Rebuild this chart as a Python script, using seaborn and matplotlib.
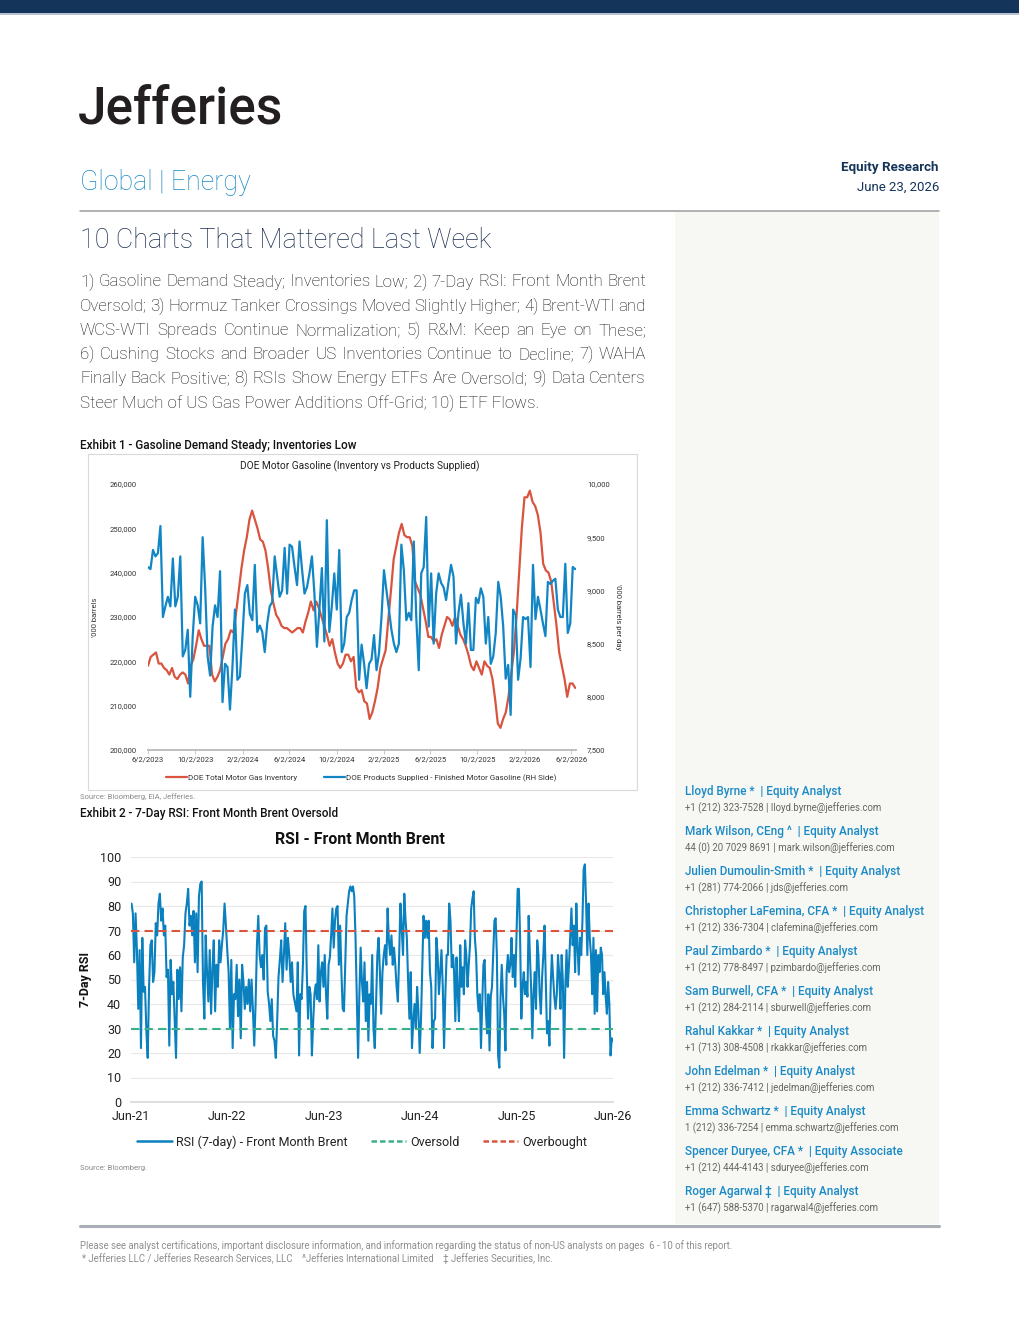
import pandas as pd
import matplotlib
matplotlib.use("Agg")
import matplotlib.pyplot as plt
import matplotlib.dates as mdates
import matplotlib.ticker as mticker
from matplotlib.patches import Rectangle
from matplotlib.lines import Line2D
import seaborn as sns

# === 1. Data ===
# Exhibit 1: weekly DOE series, 6/2/2023 -> mid June 2026
gas_start, gas_end = "2023-06-02", "2026-06-12"
inventory = [  # '000 barrels
    219000, 221000, 221500, 222000, 219500, 219500, 218500, 218000, 217000, 218500,
    216500, 216000, 217000, 217500, 217000, 215000, 219000, 220500, 223500, 227000,
    225000, 223500, 223500, 223500, 217000, 215500, 216500, 218000, 221000, 224000,
    225000, 227000, 226500, 231000, 236000, 241000, 245000, 248000, 252000, 254000,
    252000, 250000, 247500, 247000, 245000, 241000, 236000, 233000, 230500, 229500,
    228000, 227500, 227500, 227000, 226500, 227000, 227500, 227500, 226500, 229000,
    231000, 233500, 231500, 233500, 232000, 230000, 228000, 226000, 223500, 225000,
    222000, 219500, 218500, 219500, 221500, 221500, 220000, 221000, 214000, 213000,
    213500, 211000, 210500, 207000, 208500, 211000, 214000, 218500, 220500, 222500,
    229500, 236000, 243000, 246000, 249000, 251000, 248500, 248000, 248000, 246000,
    238000, 236500, 235000, 232000, 229000, 225500, 225500, 224500, 225000, 223000,
    226000, 228000, 230000, 229500, 228000, 230000, 228000, 226000, 225000, 223500,
    221500, 219000, 218000, 220000, 218500, 217000, 220000, 219000, 218500, 216000,
    211500, 206000, 205000, 207000, 208500, 212000, 217000, 222000, 230000, 240000,
    250000, 257000, 257000, 258500, 256000, 255000, 253000, 249000, 242000, 240500,
    240000, 238000, 233000, 228000, 222000, 219000, 216000, 212000, 215000, 215000,
    214000,
]
supplied = [  # '000 barrels per day
    9220, 9200, 9380, 9320, 9350, 9605, 8750, 8850, 8940, 8850, 9300, 8850, 8940, 9320,
    8380, 8440, 8630, 8000, 8570, 8940, 8860, 8690, 9500, 9030, 8380, 8200, 8660, 8860,
    8750, 9180, 7950, 8310, 8280, 7880, 8280, 8820, 8160, 8190, 8560, 8970, 9050, 8780,
    8720, 9240, 8610, 8670, 8610, 8420, 8690, 8850, 8890, 9320, 9130, 8940, 9000, 9400,
    8970, 9430, 9410, 9220, 9050, 9460, 9200, 8970, 9030, 9160, 9320, 8970, 8470, 8820,
    9210, 8520, 9660, 8610, 8850, 9160, 8820, 9380, 8420, 8500, 8750, 8790, 8910, 9000,
    9000, 8160, 8490, 8310, 8080, 8310, 8350, 8580, 8250, 8410, 8750, 9190, 9000, 8820,
    8630, 8500, 8420, 8500, 9430, 9190, 8720, 8790, 8720, 9460, 8750, 8250, 9160, 9220,
    9690, 8660, 9160, 8500, 8970, 9160, 9070, 9030, 8910, 9080, 9240, 9130, 8500, 8790,
    8960, 8690, 8500, 8880, 8440, 8440, 8930, 8880, 9020, 8940, 8500, 8750, 8310, 8380,
    8600, 9080, 8940, 8660, 8170, 8300, 7830, 8820, 8770, 8160, 8360, 8750, 8730, 8750,
    8280, 9240, 8730, 8940, 8820, 8690, 8570, 9080, 9060, 9090, 9110, 8820, 8750, 8750,
    9250, 8600, 8690, 9220, 9200,
]

# Exhibit 2: 7-day RSI, Front Month Brent, in three date spans
rsi_span_a = ("2021-06-24", "2023-02-27")
rsi_a = [
    81, 77, 57, 77, 62, 38, 62, 22, 67, 45, 47, 29, 18, 47, 64, 66, 49, 53, 73, 68,
    81, 85, 74, 79, 68, 72, 51, 54, 23, 58, 44, 49, 33, 18, 54, 42, 55, 37, 59, 64,
    77, 81, 87, 72, 76, 68, 78, 57, 77, 53, 84, 89, 90, 49, 34, 68, 53, 41, 62, 36,
    54, 66, 37, 56, 47, 66, 57, 64, 70, 81, 72, 62, 53, 30, 58, 22, 44, 42, 56, 35,
    50, 26, 56, 49, 38, 47, 40, 50, 37, 50, 38, 23, 40, 64, 76, 60, 55, 60, 50, 71,
    72, 45, 40, 33, 42, 27, 25, 18, 33, 51, 58, 66, 49, 60, 73, 54, 67, 60, 49, 57,
    44,
]
rsi_span_b = ("2023-03-11", "2024-10-24")
rsi_b = [
    37, 57, 19, 44, 42, 56, 78, 80, 53, 34, 47, 44, 19, 33, 44, 48, 42, 64, 41, 53,
    57, 47, 60, 44, 34, 56, 59, 68, 79, 63, 74, 79, 80, 56, 72, 53, 38, 37, 56, 76,
    81, 86, 88, 86, 88, 84, 67, 42, 18, 44, 63, 49, 41, 57, 33, 49, 25, 44, 40, 60,
    30, 22, 40, 60, 67, 53, 36, 53, 60, 64, 56, 79, 66, 60, 68, 56, 63, 56, 47, 41,
    60, 81, 71, 60, 85, 74, 67, 49, 34, 53, 22, 33, 40, 30, 47, 37, 20, 33, 55, 76,
    67, 74, 67, 74, 53, 47, 22, 33, 34, 67, 60, 44, 53, 62, 47, 22, 44, 60, 60, 81,
    74, 55, 60,
]
rsi_span_c = ("2024-10-28", "2026-06-22")
rsi_c = [
    53, 33, 59, 44, 33, 64, 47, 55, 44, 66, 60, 47, 56, 64, 79, 83, 86, 67, 60, 44,
    37, 44, 22, 40, 56, 58, 37, 28, 44, 21, 43, 47, 60, 74, 75, 60, 19, 14, 43, 56,
    43, 36, 21, 53, 60, 53, 56, 67, 51, 60, 47, 67, 87, 87, 67, 34, 47, 53, 44, 49,
    43, 76, 60, 47, 26, 44, 53, 38, 66, 60, 44, 36, 51, 60, 72, 49, 28, 33, 23, 47,
    60, 51, 43, 38, 44, 60, 52, 38, 60, 49, 18, 47, 62, 47, 56, 67, 79, 64, 72, 53,
    81, 63, 52, 67, 60, 74, 95, 97, 81, 60, 81, 67, 60, 44, 67, 36, 62, 37, 60, 53,
    63, 60, 44, 53, 43, 36, 49, 40, 19, 26, 25,
]

analysts = [
    "Lloyd Byrne *  | Equity Analyst",
    "Mark Wilson, CEng ^  | Equity Analyst",
    "Julien Dumoulin-Smith *  | Equity Analyst",
    "Christopher LaFemina, CFA *  | Equity Analyst",
    "Paul Zimbardo *  | Equity Analyst",
    "Sam Burwell, CFA *  | Equity Analyst",
    "Rahul Kakkar *  | Equity Analyst",
    "John Edelman *  | Equity Analyst",
    "Emma Schwartz *  | Equity Analyst",
    "Spencer Duryee, CFA *  | Equity Associate",
    "Roger Agarwal \u2021  | Equity Analyst",
]
contacts = [
    "+1 (212) 323-7528 | lloyd.byrne@jefferies.com",
    "44 (0) 20 7029 8691 | mark.wilson@jefferies.com",
    "+1 (281) 774-2066 | jds@jefferies.com",
    "+1 (212) 336-7304 | clafemina@jefferies.com",
    "+1 (212) 778-8497 | pzimbardo@jefferies.com",
    "+1 (212) 284-2114 | sburwell@jefferies.com",
    "+1 (713) 308-4508 | rkakkar@jefferies.com",
    "+1 (212) 336-7412 | jedelman@jefferies.com",
    "1 (212) 336-7254 | emma.schwartz@jefferies.com",
    "+1 (212) 444-4143 | sduryee@jefferies.com",
    "+1 (647) 588-5370 | ragarwal4@jefferies.com",
]

summary_lines = [
    "1) Gasoline Demand Steady; Inventories Low; 2) 7-Day RSI: Front Month Brent",
    "Oversold; 3) Hormuz Tanker Crossings Moved Slightly Higher; 4) Brent-WTI and",
    "WCS-WTI Spreads Continue Normalization; 5) R&M: Keep an Eye on These;",
    "6) Cushing Stocks and Broader US Inventories Continue to Decline; 7) WAHA",
    "Finally Back Positive; 8) RSIs Show Energy ETFs Are Oversold; 9) Data Centers",
    "Steer Much of US Gas Power Additions Off-Grid; 10) ETF Flows.",
]

# === 2. Build frames ===
gas_inv = pd.DataFrame({
    "date": pd.date_range(gas_start, gas_end, periods=len(inventory)),
    "value": inventory,
})
gas_sup = pd.DataFrame({
    "date": pd.date_range(gas_start, gas_end, periods=len(supplied)),
    "value": supplied,
})
rsi = pd.concat([
    pd.DataFrame({"date": pd.date_range(*span, periods=len(vals)), "rsi": vals})
    for span, vals in [(rsi_span_a, rsi_a), (rsi_span_b, rsi_b), (rsi_span_c, rsi_c)]
], ignore_index=True)

# === 3. Page setup ===
sns.set_theme(style="white")
plt.rcParams["font.family"] = ["Roboto", "DejaVu Sans"]

W, H = 1020, 1320
fig = plt.figure(figsize=(W / 100, H / 100), dpi=100)
fig.patch.set_facecolor("white")
renderer = fig.canvas.get_renderer()

NAVY = "#15345a"
LINK = "#1a8ac6"
RED = "#d9543f"
BLUE = "#1286c4"
RSI_BLUE = "#0b80bf"
GREEN = "#3aaf8c"
GREY = "#8a8a8a"


def fx(x):
    return x / W


def fy(y):
    return 1 - y / H


def txt(x, y, s, **kw):
    kw.setdefault("va", "center")
    return fig.text(fx(x), fy(y), s, **kw)


def justified(x0, x1, y, line, **kw):
    # spread the words of one line so it fills x0..x1
    words = line.split()
    parts = [txt(x0, y, w, **kw) for w in words]
    widths = [p.get_window_extent(renderer).width for p in parts]
    gap = (x1 - x0 - sum(widths)) / max(len(words) - 1, 1)
    pos = x0
    for p, w in zip(parts, widths):
        p.set_x(fx(pos))
        pos += w + gap


def box(x0, y0, x1, y1, **kw):
    fig.add_artist(Rectangle((fx(x0), fy(y1)), (x1 - x0) / W, (y1 - y0) / H,
                             transform=fig.transFigure, zorder=0, **kw))


def hline(x0, x1, y, **kw):
    fig.add_artist(Line2D([fx(x0), fx(x1)], [fy(y), fy(y)],
                          transform=fig.transFigure, **kw))


# banner, rules, sidebar
box(0, 0, W, 13, color=NAVY, lw=0)
box(0, 13, W, 15, color="#b7c3d3", lw=0)
box(675, 212, 939, 1224, color="#f7f7f4", lw=0)
hline(80, 939, 211, color="#9b9b9b", lw=1.1)
hline(80, 939, 1226, color="#a9adb5", lw=2.2)

# header text
txt(78, 110, "Jefferies", fontsize=37, fontweight="medium", color="#231f20")
txt(80, 182, "Global | Energy", fontsize=19.3, fontweight="light", color=LINK)
txt(939, 167, "Equity Research", fontsize=9.6, fontweight="bold", color=NAVY, ha="right")
txt(939, 187, "June 23, 2026", fontsize=9.5, color=NAVY, ha="right")
txt(80, 240, "10 Charts That Mattered Last Week", fontsize=19.4,
    fontweight="light", color="#1c2f4f")
body = dict(fontsize=12.2, fontweight="light", color="#111111")
for i, line in enumerate(summary_lines):
    y = 282 + 24.2 * i
    if i < len(summary_lines) - 1:
        justified(80, 646, y, line, **body)
    else:
        txt(80, y, line, **body)

# === 4. Exhibit 1 ===
txt(80, 445, "Exhibit 1 - Gasoline Demand Steady; Inventories Low",
    fontsize=8.5, fontweight="medium", color="#111111")
box(88, 454, 637, 790, fill=False, ec="#d9d9d9", lw=0.8)
txt(360, 466, "DOE Motor Gasoline (Inventory vs Products Supplied)",
    fontsize=7.3, color="#222222", ha="center")

ax1 = fig.add_axes([fx(148), fy(750), (576 - 148) / W, (750 - 484) / H])
sns.lineplot(data=gas_inv, x="date", y="value", ax=ax1, color=RED, linewidth=1.6)
ax1b = ax1.twinx()
sns.lineplot(data=gas_sup, x="date", y="value", ax=ax1b, color=BLUE, linewidth=1.6)

ax1.set_xlim(pd.Timestamp("2023-06-02"), pd.Timestamp("2026-06-14"))
ax1.set_xticks([pd.Timestamp("2023-06-02") + pd.DateOffset(months=4 * i) for i in range(10)])
ax1.xaxis.set_major_formatter(mdates.DateFormatter("%-m/%-d/%Y"))
ax1.set_ylim(200000, 260000)
ax1.set_yticks(range(200000, 260001, 10000))
ax1.yaxis.set_major_formatter(mticker.StrMethodFormatter("{x:,.0f}"))
ax1b.set_ylim(7500, 10000)
ax1b.set_yticks(range(7500, 10001, 500))
ax1b.yaxis.set_major_formatter(mticker.StrMethodFormatter("{x:,.0f}"))
for a in (ax1, ax1b):
    a.set_facecolor("none")
    a.set_xlabel("")
    for s in ("top", "left", "right"):
        a.spines[s].set_visible(False)
    a.spines["bottom"].set_color("#bfbfbf")
    a.tick_params(axis="y", length=0, labelsize=5.5, labelcolor="#333333", pad=8)
ax1.tick_params(axis="x", length=3, width=0.6, color="#bfbfbf", bottom=True,
                labelsize=5.5, labelcolor="#333333", pad=1.5)
ax1.set_ylabel("'000 barrels", fontsize=5.5, color="#333333")
ax1.yaxis.set_label_coords(-0.117, 0.5)
ax1b.set_ylabel("'000 barrels per day", fontsize=5.5, color="#333333", rotation=270)
ax1b.yaxis.set_label_coords(1.105, 0.5)

leg1 = [Line2D([], [], color=RED, lw=1.6), Line2D([], [], color=BLUE, lw=1.6)]
fig.legend(leg1, ["DOE Total Motor Gas Inventory",
                  "DOE Products Supplied - Finished Motor Gasoline (RH Side)"],
           loc="center", bbox_to_anchor=(fx(361), fy(778)), ncol=2, frameon=False,
           fontsize=5.8, handlelength=2.6, handletextpad=0.1, columnspacing=3.4,
           labelcolor="#333333")
txt(80, 797, "Source: Bloomberg, EIA, Jefferies.", fontsize=5.5, color=GREY)

# === 5. Exhibit 2 ===
txt(80, 813, "Exhibit 2 - 7-Day RSI: Front Month Brent Oversold",
    fontsize=8.5, fontweight="medium", color="#111111")
txt(360, 840, "RSI - Front Month Brent", fontsize=11.4, fontweight="bold",
    color="#111111", ha="center")

ax2 = fig.add_axes([fx(131), fy(1102), (613 - 131) / W, (1102 - 857) / H])
sns.lineplot(data=rsi, x="date", y="rsi", ax=ax2, color=RSI_BLUE, linewidth=1.5)
ax2.axhline(70, color=RED, lw=1.5, ls=(0, (4, 2.5)), zorder=3)
ax2.axhline(30, color=GREEN, lw=1.5, ls=(0, (4, 2.5)), zorder=3)
ax2.set_xlim(pd.Timestamp("2021-06-22"), pd.Timestamp("2026-06-22"))
ax2.set_xticks([pd.Timestamp("2021-06-22") + pd.DateOffset(years=i) for i in range(6)])
ax2.xaxis.set_major_formatter(mdates.DateFormatter("%b-%y"))
ax2.set_ylim(0, 100)
ax2.set_yticks(range(0, 101, 10))
ax2.grid(axis="y", color="#e8e8e8", lw=0.8)
ax2.set_axisbelow(True)
for s in ("top", "left", "right"):
    ax2.spines[s].set_visible(False)
ax2.spines["bottom"].set_color("#d9d9d9")
ax2.tick_params(length=0, labelsize=9, labelcolor="#222222")
ax2.tick_params(axis="y", pad=7)
ax2.tick_params(axis="x", pad=6)
ax2.set_xlabel("")
ax2.set_ylabel("7-Day RSI", fontsize=9, fontweight="bold", color="#111111")
ax2.yaxis.set_label_coords(-0.081, 0.5)

leg2 = [Line2D([], [], color=RSI_BLUE, lw=1.8),
        Line2D([], [], color=GREEN, lw=1.8, ls=(0, (2.2, 1.2))),
        Line2D([], [], color=RED, lw=1.8, ls=(0, (2.2, 1.2)))]
fig.legend(leg2, ["RSI (7-day) - Front Month Brent", "Oversold", "Overbought"],
           loc="center", bbox_to_anchor=(fx(362), fy(1142)), ncol=3, frameon=False,
           fontsize=9, handlelength=2.8, handletextpad=0.4, columnspacing=1.8,
           labelcolor="#222222")
txt(80, 1168, "Source: Bloomberg.", fontsize=5.5, color=GREY)

# === 6. Analyst sidebar ===
for i, (name, contact) in enumerate(zip(analysts, contacts)):
    txt(685, 792 + 40 * i, name, fontsize=8.5, fontweight="medium", color=LINK)
    txt(685, 808 + 40 * i, contact, fontsize=6.9, color="#666666")

# === 7. Footer ===
foot = dict(fontsize=6.9, color="#8f8f8f")
txt(80, 1246, "Please see analyst certifications, important disclosure information, and "
    "information regarding the status of non-US analysts on pages  6 - 10 of this report.",
    **foot)
txt(82, 1259, "* Jefferies LLC / Jefferies Research Services, LLC    ^Jefferies International "
    "Limited    \u2021 Jefferies Securities, Inc.", **foot)

fig.savefig("out.png", dpi=100)
